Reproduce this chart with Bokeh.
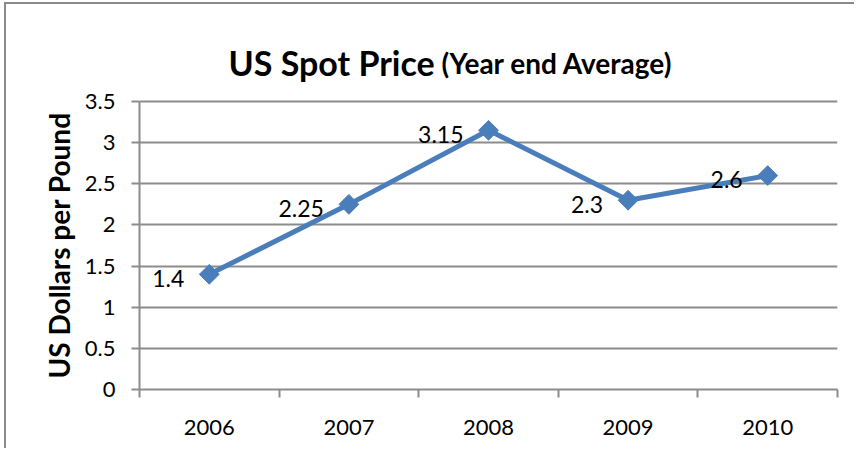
import numpy as np
from bokeh.plotting import figure
from bokeh.models import Range1d, FixedTicker, LinearAxis, Label, Grid, Title
from bokeh.core.properties import value
from bokeh.embed import file_html
from bokeh.resources import INLINE

years = ["2006", "2007", "2008", "2009", "2010"]
prices = [1.4, 2.25, 3.15, 2.3, 2.6]
price_labels = ["1.4", "2.25", "3.15", "2.3", "2.6"]
y_ticks = [0, 0.5, 1, 1.5, 2, 2.5, 3, 3.5]
y_tick_labels = ["0", "0.5", "1", "1.5", "2", "2.5", "3", "3.5"]
title_main = "US Spot Price"
title_sub = "(Year end Average)"
y_title = "US Dollars per Pound"

FONT = "Lato"
GRID = "#8c8c8c"
BLUE = "#4a7ebb"

n = len(years)
xc = [i + 0.5 for i in range(n)]
bounds = list(range(n + 1))

# layout (canvas pixels)
W, H = 850, 446
FRAME_L, FRAME_R = 133, 831
PLOT_TOP, PLOT_BOT = 97, 385          # pixel rows of y=3.5 and y=0
ymax_val = y_ticks[-1]
ppu = (PLOT_BOT - PLOT_TOP) / ymax_val
y_top = ymax_val + PLOT_TOP / ppu      # frame reaches canvas top (title area)
ppx = (FRAME_R - FRAME_L) / n


def cx(px):
    return (px - FRAME_L) / ppx


def cy(py):
    return y_top - py / ppu


p = figure(width=W, height=H, output_backend="svg", toolbar_location=None,
           x_range=Range1d(0, n), y_range=Range1d(0, y_top),
           x_axis_type=None, y_axis_type=None,
           min_border_left=FRAME_L, min_border_right=W - FRAME_R,
           min_border_top=0, min_border_bottom=H - PLOT_BOT,
           outline_line_color=None, background_fill_color="white",
           border_fill_color="white",
           styles={"margin-left": "4px", "margin-top": "2px",
                   "border-left": "2px solid #8a8a8a",
                   "border-top": "2px solid #8a8a8a"})

# y axis
yaxis = LinearAxis(ticker=FixedTicker(ticks=y_ticks, minor_ticks=[]),
                   bounds=(0, ymax_val),
                   major_label_overrides={t: l for t, l in zip(y_ticks, y_tick_labels)})
yaxis.axis_line_color = GRID
yaxis.axis_line_width = 2
yaxis.major_tick_line_color = GRID
yaxis.major_tick_line_width = 2
yaxis.major_tick_out = 8
yaxis.major_tick_in = 0
yaxis.minor_tick_line_color = None
yaxis.major_label_text_font = FONT
yaxis.major_label_text_font_size = "22px"
yaxis.major_label_text_color = "black"
yaxis.major_label_standoff = 16
p.add_layout(yaxis, "left")

# y axis title, starting just above the bottom of the 0..3.5 span
p.add_layout(Title(text=y_title, align="left", offset=11, standoff=11,
                   text_font=FONT, text_font_size="28px", text_font_style="bold",
                   text_color="black"), "left")

# x axis: labels at centres, tick marks at category boundaries
xaxis = LinearAxis(ticker=FixedTicker(ticks=xc, minor_ticks=bounds),
                   major_label_overrides={c: y for c, y in zip(xc, years)})
xaxis.axis_line_color = GRID
xaxis.axis_line_width = 2
xaxis.major_tick_line_color = None
xaxis.major_tick_out = 0
xaxis.major_tick_in = 0
xaxis.minor_tick_line_color = GRID
xaxis.minor_tick_line_width = 2
xaxis.minor_tick_out = 8
xaxis.minor_tick_in = 0
xaxis.major_label_text_font = FONT
xaxis.major_label_text_font_size = "22px"
xaxis.major_label_text_color = "black"
xaxis.major_label_standoff = 22
p.add_layout(xaxis, "below")

grid = Grid(dimension=1, ticker=yaxis.ticker, grid_line_color=GRID, grid_line_width=2)
p.add_layout(grid)

p.line(xc, prices, line_width=5, color=BLUE)
p.scatter(xc, prices, marker="square", size=14, angle=np.pi / 4, color=BLUE)
p.text(xc, prices, text=price_labels, text_align="right", text_baseline="middle",
       x_offset=-25, y_offset=4, text_font=value(FONT), text_font_size="23px",
       text_color="black")

p.add_layout(Label(x=cx(222), y=cy(58), text=title_main,
                   text_font=FONT, text_font_size="34px", text_font_style="bold",
                   text_color="black", text_baseline="alphabetic"))
p.add_layout(Label(x=cx(435), y=cy(58), text=title_sub,
                   text_font=FONT, text_font_size="28px", text_font_style="bold",
                   text_color="black", text_baseline="alphabetic"))

open("out.html", "w").write(file_html(p, INLINE))
